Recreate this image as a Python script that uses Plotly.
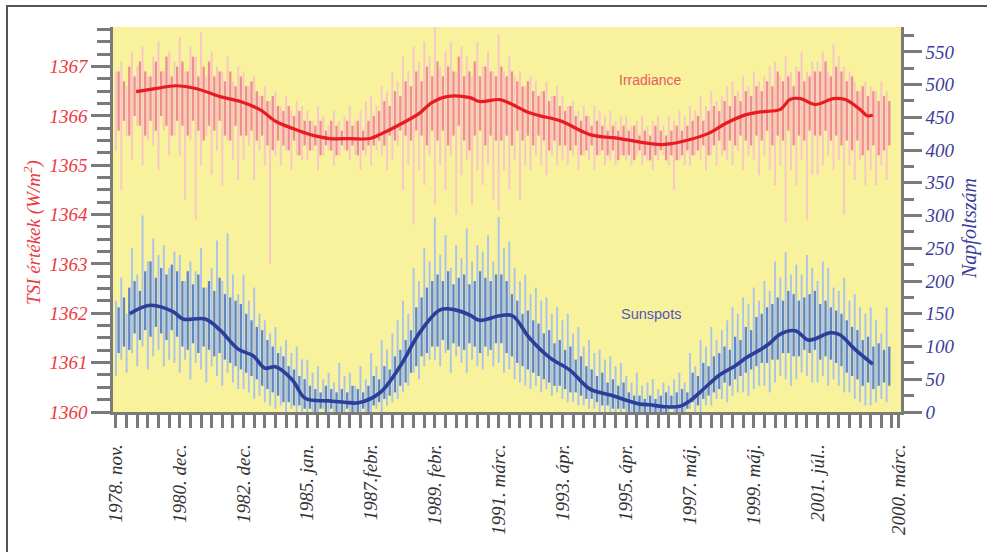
import numpy as np
import plotly.graph_objects as go

# ---------------- data ----------------
# x axis: tick-index units (one small tick per unit)
tick_labels = ["1978. nov.", "1980. dec.", "1982. dec.", "1985. jan.", "1987.febr.",
               "1989. febr.", "1991. márc.", "1993. ápr.", "1995. ápr.", "1997. máj.",
               "1999. máj.", "2001. júl..", "2000. márc."]
tick_pos = [0, 6, 12, 18, 24, 30, 36, 42, 48, 54, 60, 66, 73.65]

# TSI, light pink spikes (every 0.5 tick from 0): high / low values
tsi_light_hi = [
    1366.9, 1367.1, 1366.6, 1367.3, 1367.0, 1367.4, 1366.8, 1367.2, 1367.5, 1366.9, 1367.3, 1367.1,
    1367.6, 1366.9, 1367.4, 1367.2, 1367.7, 1366.8, 1367.3, 1367.0, 1366.9, 1367.2, 1366.7, 1367.0,
    1366.9, 1366.6, 1366.8, 1366.4, 1366.6, 1366.3, 1366.5, 1366.2, 1366.4, 1366.1, 1366.3, 1366.2,
    1366.1, 1365.9, 1366.2, 1366.0, 1365.8, 1366.1, 1365.9, 1366.0, 1366.2, 1365.9, 1366.1, 1366.3,
    1366.4, 1366.2, 1366.6, 1366.5, 1366.9, 1366.7, 1367.2, 1366.9, 1367.4, 1367.1, 1367.5, 1367.2,
    1367.8, 1367.0, 1367.3, 1367.5, 1366.9, 1367.4, 1367.2, 1366.8, 1367.5, 1367.0, 1367.3, 1366.9,
    1367.65, 1366.9, 1367.2, 1366.8, 1366.9, 1366.6, 1366.8, 1366.7, 1366.5, 1366.7, 1366.4, 1366.6,
    1366.4, 1366.2, 1366.3, 1366.1, 1366.2, 1366.0, 1366.2, 1366.1, 1366.0, 1366.1, 1365.9, 1366.0,
    1366.0, 1365.8, 1365.9, 1366.0, 1365.8, 1365.9, 1366.0, 1365.8, 1366.0, 1365.9, 1366.1, 1366.0,
    1366.2, 1366.1, 1366.4, 1366.2, 1366.5, 1366.3, 1366.4, 1366.6, 1366.7, 1366.5, 1366.8, 1366.6,
    1366.9, 1366.7, 1366.8, 1367.0, 1367.1, 1366.8, 1367.2, 1366.9, 1367.0, 1367.3, 1366.9, 1367.1,
    1367.1, 1367.3, 1366.9, 1367.45, 1367.2, 1367.0, 1366.9, 1366.7, 1366.5, 1366.7, 1366.6, 1366.5,
    1366.7, 1366.5,
]
tsi_light_lo = [
    1365.3, 1364.5, 1365.6, 1365.1, 1365.8, 1365.0, 1365.5, 1365.4, 1364.9, 1365.7, 1365.2, 1365.6,
    1365.2, 1364.3, 1365.5, 1363.9, 1365.0, 1365.6, 1364.8, 1365.3, 1364.6, 1365.5, 1365.1, 1364.7,
    1365.1, 1365.4, 1364.7, 1365.3, 1365.0, 1363.0, 1365.2, 1365.0, 1365.3, 1364.9, 1365.2, 1365.1,
    1365.1, 1365.3, 1364.9, 1365.2, 1365.3, 1365.0, 1365.2, 1365.3, 1365.1, 1365.2, 1364.9, 1365.2,
    1365.0, 1365.3, 1365.2, 1364.9, 1365.1, 1365.4, 1364.5, 1365.0, 1363.8, 1364.9, 1364.6, 1365.2,
    1364.2, 1365.0, 1364.5, 1365.2, 1364.0, 1364.8, 1365.1, 1364.2, 1364.9, 1364.6, 1365.0, 1364.3,
    1364.1, 1364.9, 1364.5, 1365.1, 1364.3, 1365.0, 1364.9, 1365.2, 1365.0, 1364.8, 1365.2, 1365.0,
    1365.1, 1365.0, 1365.2, 1364.9, 1365.2, 1365.1, 1364.9, 1365.2, 1365.0, 1365.1, 1365.0, 1365.2,
    1365.1, 1365.0, 1365.2, 1365.0, 1365.1, 1364.9, 1365.1, 1365.2, 1365.0, 1364.5, 1365.1, 1365.0,
    1365.0, 1365.2, 1365.1, 1364.9, 1365.2, 1365.0, 1365.2, 1365.1, 1365.0, 1365.3, 1364.9, 1365.2,
    1365.1, 1364.8, 1365.2, 1364.9, 1364.6, 1365.0, 1363.85, 1364.9, 1364.6, 1365.1, 1363.9, 1364.8,
    1364.8, 1365.0, 1365.2, 1364.9, 1365.1, 1364.0, 1365.0, 1364.7, 1365.1, 1364.6, 1364.9, 1364.6,
    1365.0, 1364.7,
]

# TSI, salmon inner band spikes (every 0.5 tick from 0.25)
tsi_dark_hi = [
    1366.9, 1366.7, 1367.0, 1366.8, 1367.1, 1366.9, 1366.8, 1367.1, 1366.9, 1367.2, 1366.8, 1367.0,
    1367.1, 1366.9, 1367.2, 1366.8, 1367.0, 1367.1, 1366.8, 1366.9, 1366.7, 1366.9, 1366.6, 1366.8,
    1366.6, 1366.7, 1366.5, 1366.4, 1366.3, 1366.4, 1366.2, 1366.1, 1366.2, 1366.0, 1366.1, 1365.9,
    1365.9, 1365.8, 1365.9, 1365.7, 1365.9, 1365.8, 1365.7, 1365.9, 1365.8, 1365.9, 1365.7, 1365.9,
    1366.0, 1366.1, 1366.3, 1366.2, 1366.5, 1366.4, 1366.7, 1366.6, 1366.9, 1366.7, 1367.0, 1366.8,
    1367.1, 1366.8, 1367.0, 1366.9, 1367.2, 1366.8, 1366.9, 1367.1, 1366.8, 1367.0, 1366.9, 1366.8,
    1367.0, 1366.8, 1366.9, 1366.7, 1366.6, 1366.7, 1366.5, 1366.4, 1366.5, 1366.3, 1366.4, 1366.2,
    1366.1, 1366.2, 1366.0, 1365.9, 1366.0, 1365.8, 1365.9, 1365.8, 1365.7, 1365.8, 1365.7, 1365.8,
    1365.7, 1365.8, 1365.6, 1365.7, 1365.6, 1365.8, 1365.7, 1365.6, 1365.7, 1365.8, 1365.7, 1365.8,
    1365.9, 1366.0, 1365.9, 1366.1, 1366.2, 1366.1, 1366.3, 1366.2, 1366.4, 1366.3, 1366.5, 1366.4,
    1366.6, 1366.5, 1366.7, 1366.6, 1366.9, 1366.7, 1366.8, 1366.6, 1366.9, 1366.7, 1366.8, 1366.9,
    1366.9, 1367.1, 1366.8, 1367.0, 1366.9, 1366.7, 1366.8, 1366.5, 1366.6, 1366.4, 1366.5, 1366.3,
    1366.4, 1366.3,
]
tsi_dark_lo = [
    1365.7, 1365.9, 1365.6, 1366.0, 1365.8, 1365.6, 1365.9, 1365.7, 1366.0, 1365.8, 1365.6, 1365.9,
    1365.8, 1365.6, 1365.9, 1365.7, 1365.5, 1365.8, 1365.7, 1365.9, 1365.6, 1365.5, 1365.8, 1365.6,
    1365.6, 1365.7, 1365.5, 1365.6, 1365.4, 1365.3, 1365.5, 1365.4, 1365.3, 1365.5, 1365.2, 1365.4,
    1365.3, 1365.4, 1365.2, 1365.4, 1365.3, 1365.2, 1365.4, 1365.3, 1365.4, 1365.2, 1365.3, 1365.4,
    1365.4, 1365.5, 1365.4, 1365.6, 1365.5, 1365.7, 1365.6, 1365.5, 1365.7, 1365.6, 1365.4, 1365.7,
    1365.5, 1365.7, 1365.4, 1365.6, 1365.8, 1365.5, 1365.3, 1365.6, 1365.7, 1365.4, 1365.6, 1365.5,
    1365.5, 1365.6, 1365.4, 1365.7, 1365.5, 1365.6, 1365.4, 1365.6, 1365.5, 1365.3, 1365.5, 1365.4,
    1365.4, 1365.3, 1365.4, 1365.2, 1365.3, 1365.4, 1365.2, 1365.3, 1365.2, 1365.3, 1365.1, 1365.2,
    1365.2, 1365.1, 1365.3, 1365.2, 1365.1, 1365.2, 1365.3, 1365.1, 1365.2, 1365.1, 1365.2, 1365.3,
    1365.2, 1365.3, 1365.4, 1365.2, 1365.4, 1365.5, 1365.3, 1365.5, 1365.4, 1365.6, 1365.5, 1365.4,
    1365.6, 1365.5, 1365.7, 1365.4, 1365.6, 1365.5, 1365.7, 1365.4, 1365.6, 1365.5, 1365.7, 1365.6,
    1365.6, 1365.7, 1365.5, 1365.6, 1365.4, 1365.5, 1365.3, 1365.5, 1365.2, 1365.3, 1365.4, 1365.2,
    1365.3, 1365.4,
]

# TSI smoothed curve
tsi_smooth_x = [1.9, 3.7, 5.6, 7.6, 9.8, 11.7, 13.5, 15.1, 16.7, 18.3, 20.1, 22.0, 23.9, 24.8,
                26.5, 28.6, 29.7, 31.1, 33.3, 34.2, 36.1, 37.1, 38.7, 39.9, 41.8, 44.6, 47.4,
                50.2, 51.6, 54.0, 55.9, 57.3, 59.2, 60.6, 62.5, 63.4, 64.4, 65.8, 67.5, 68.6,
                70.0, 70.7, 71.2]
tsi_smooth = [1366.49, 1366.55, 1366.61, 1366.55, 1366.39, 1366.29, 1366.13, 1365.88, 1365.74,
              1365.62, 1365.54, 1365.54, 1365.54, 1365.62, 1365.80, 1366.06, 1366.27, 1366.39,
              1366.37, 1366.29, 1366.33, 1366.25, 1366.08, 1366.00, 1365.90, 1365.62, 1365.54,
              1365.44, 1365.42, 1365.52, 1365.66, 1365.84, 1366.02, 1366.08, 1366.13, 1366.33,
              1366.35, 1366.23, 1366.35, 1366.33, 1366.13, 1366.00, 1366.02]

# Sunspots, light blue spikes (every 0.5 tick from 0)
spots_light_hi = [
    170, 205, 150, 250, 210, 300, 230, 265, 240, 255, 220, 245,
    240, 200, 230, 215, 250, 190, 220, 262, 200, 273, 210, 180,
    210, 170, 190, 150, 140, 120, 130, 100, 110, 90, 100, 80,
    80, 60, 70, 50, 60, 45, 75, 55, 60, 40, 70, 50,
    90, 70, 110, 95, 120, 140, 170, 150, 220, 200, 250, 230,
    297, 240, 270, 220, 255, 235, 280, 230, 255, 245, 270, 230,
    298, 250, 260, 220, 200, 210, 180, 190, 170, 175, 150, 160,
    140, 150, 120, 130, 100, 110, 90, 95, 80, 85, 70, 75,
    55, 45, 60, 40, 45, 50, 35, 45, 40, 50, 60, 45,
    90, 70, 110, 100, 130, 110, 125, 140, 160, 150, 175, 165,
    190, 170, 200, 185, 230, 205, 244, 210, 225, 210, 240, 220,
    200, 230, 220, 190, 185, 205, 170, 180, 160, 150, 160, 140,
    120, 160,
]
spots_light_lo = [
    55, 80, 60, 90, 70, 100, 65, 85, 95, 70, 80, 75,
    60, 80, 50, 75, 65, 45, 70, 55, 40, 60, 45, 35,
    35, 30, 20, 25, 15, 10, 5, 10, 0, 5, 0, 0,
    0, 0, 0, 5, 0, 0, 0, 0, 0, 0, 0, 0,
    0, 5, 0, 10, 15, 20, 30, 40, 60, 50, 70, 80,
    80, 70, 90, 60, 85, 75, 60, 80, 70, 65, 85, 70,
    75, 60, 65, 50, 45, 40, 35, 40, 30, 35, 25, 30,
    20, 15, 15, 10, 10, 5, 5, 0, 0, 0, 0, 0,
    0, 0, 0, 0, 0, 0, 0, 0, 0, 0, 0, 0,
    5, 0, 0, 10, 10, 20, 20, 15, 25, 30, 30, 25,
    35, 40, 40, 30, 45, 55, 50, 40, 50, 60, 55, 45,
    45, 55, 40, 50, 40, 30, 30, 20, 15, 10, 10, 15,
    20, 15,
]

# Sunspots, medium blue spikes (every 0.5 tick from 0.25)
spots_dark_hi = [
    160, 175, 190, 200, 185, 215, 230, 205, 220, 210, 225, 215,
    200, 215, 195, 210, 190, 200, 185, 205, 180, 175, 170, 165,
    150, 140, 130, 125, 110, 100, 90, 85, 70, 65, 55, 50,
    40, 35, 30, 40, 35, 30, 35, 30, 40, 35, 30, 40,
    55, 50, 70, 65, 85, 95, 110, 125, 160, 175, 190, 200,
    210, 200, 215, 195, 205, 210, 195, 200, 215, 205, 200, 210,
    210, 200, 180, 170, 150, 155, 140, 135, 120, 125, 105, 110,
    95, 100, 80, 85, 70, 65, 55, 60, 45, 50, 40, 45,
    30, 25, 25, 20, 25, 20, 25, 30, 25, 30, 35, 30,
    60, 55, 75, 70, 85, 90, 100, 95, 115, 110, 130, 125,
    145, 150, 160, 165, 175, 170, 185, 180, 170, 175, 180, 185,
    165, 170, 160, 155, 150, 140, 130, 125, 110, 115, 100, 105,
    95, 100,
]
spots_dark_lo = [
    90, 100, 95, 120, 110, 125, 115, 130, 120, 110, 125, 115,
    100, 95, 105, 90, 100, 95, 85, 90, 80, 75, 70, 65,
    60, 55, 50, 40, 35, 30, 25, 15, 15, 10, 10, 5,
    5, 0, 5, 0, 5, 0, 0, 5, 0, 0, 5, 0,
    10, 15, 20, 25, 30, 40, 45, 60, 70, 85, 90, 100,
    100, 110, 95, 105, 100, 95, 105, 100, 90, 100, 95, 105,
    105, 90, 85, 75, 70, 65, 60, 55, 50, 45, 40, 40,
    35, 30, 30, 25, 20, 20, 15, 10, 10, 5, 5, 5,
    0, 0, 0, 0, 0, 0, 0, 0, 5, 0, 0, 5,
    15, 10, 20, 25, 30, 35, 45, 40, 50, 55, 60, 65,
    70, 75, 75, 80, 80, 90, 90, 85, 85, 95, 90, 95,
    80, 85, 80, 75, 70, 60, 55, 50, 40, 45, 35, 40,
    45, 40,
]

# Sunspot smoothed curve
spots_smooth_x = [1.3, 3.2, 5.4, 6.3, 8.4, 9.8, 11.5, 12.9, 14.0, 15.0, 16.6, 17.8, 20.1, 21.5,
                  22.8, 24.8, 26.7, 28.6, 30.5, 31.9, 33.3, 34.2, 36.1, 37.3, 38.9, 40.8, 42.7,
                  44.6, 46.5, 49.3, 50.2, 51.6, 53.1, 54.0, 55.4, 56.8, 58.2, 59.4, 60.6, 61.5,
                  62.5, 63.9, 65.1, 65.8, 67.2, 68.1, 69.5, 71.2]
spots_smooth = [150, 163, 153, 142, 142, 125, 96, 86, 67, 69, 49, 21, 17, 15, 14, 29, 69, 122,
                156, 156, 148, 140, 147, 147, 113, 83, 64, 35, 26, 12, 11, 8, 9, 17, 37, 57, 70,
                84, 95, 105, 119, 124, 110, 112, 121, 118, 96, 73]

tsi_ticks = [1360, 1361, 1362, 1363, 1364, 1365, 1366, 1367]
spot_ticks = [0, 50, 100, 150, 200, 250, 300, 350, 400, 450, 500, 550]

# ---------------- figure ----------------
def spikes(x0, step, lo, hi):
    """One vertical segment per sample, from its low to its high value."""
    xs, ys = [], []
    for i, (a, b) in enumerate(zip(lo, hi)):
        xv = x0 + i * step
        xs += [xv, xv, None]
        ys += [a, b, None]
    return xs, ys

RED = "#ec3a3f"
NAVY = "#3c3c9c"
GREY = "#7a7a7a"
SERIF = "Liberation Serif"

fig = go.Figure()
xs, ys = spikes(0.0, 0.5, tsi_light_lo, tsi_light_hi)
fig.add_trace(go.Scatter(x=xs, y=ys, mode="lines", line=dict(color="#f9c4ca", width=1.9),
                         yaxis="y", connectgaps=False))
xs, ys = spikes(0.25, 0.5, tsi_dark_lo, tsi_dark_hi)
fig.add_trace(go.Scatter(x=xs, y=ys, mode="lines", line=dict(color="#f18d92", width=2.3),
                         yaxis="y", connectgaps=False))
fig.add_trace(go.Scatter(x=tsi_smooth_x, y=tsi_smooth, mode="lines",
                         line=dict(color="#e81a22", width=3.2, shape="spline"), yaxis="y"))
xs, ys = spikes(0.0, 0.5, spots_light_lo, spots_light_hi)
fig.add_trace(go.Scatter(x=xs, y=ys, mode="lines", line=dict(color="#a9c3ec", width=1.9),
                         yaxis="y2", connectgaps=False))
xs, ys = spikes(0.25, 0.5, spots_dark_lo, spots_dark_hi)
fig.add_trace(go.Scatter(x=xs, y=ys, mode="lines", line=dict(color="#6185c9", width=2.3),
                         yaxis="y2", connectgaps=False))
fig.add_trace(go.Scatter(x=spots_smooth_x, y=spots_smooth, mode="lines",
                         line=dict(color="#2b3f9a", width=3.6, shape="spline"), yaxis="y2"))

L, R, T, B = 113, 901, 27, 412
W, H = 987, 552

def px(x):
    return (x - L) / (R - L)

def py(y):
    return (B - y) / (B - T)

fig.update_layout(
    width=W, height=H,
    margin=dict(l=L, r=W - R, t=T, b=H - B, pad=0, autoexpand=False),
    paper_bgcolor="white",
    plot_bgcolor="#f7f29b",
    showlegend=False,
    hovermode=False,
    xaxis=dict(
        range=[-0.28, 73.85], showgrid=False, zeroline=False,
        showline=True, linecolor=GREY, linewidth=2.5,
        tickmode="array", tickvals=tick_pos, ticktext=tick_labels,
        ticks="outside", ticklen=13, tickwidth=3, tickcolor=GREY,
        tickangle=-90, ticklabelstandoff=9,
        tickfont=dict(family=SERIF, size=19, color="#333333", style="italic"),
        minor=dict(tickmode="linear", tick0=0, dtick=1, ticks="outside",
                   ticklen=13, tickwidth=3, tickcolor=GREY, showgrid=False),
    ),
    yaxis=dict(
        range=[1360, 1367.8], showgrid=False, zeroline=False,
        showline=True, linecolor=GREY, linewidth=2.5,
        tickmode="array", tickvals=tsi_ticks,
        ticks="outside", ticklen=19, tickwidth=3, tickcolor=GREY,
        tickfont=dict(family=SERIF, size=19, color=RED, style="italic"),
        minor=dict(tickmode="linear", tick0=1360, dtick=0.25, ticks="outside",
                   ticklen=13, tickwidth=3, tickcolor=GREY, showgrid=False),
    ),
    yaxis2=dict(
        range=[0, 588], overlaying="y", side="right", anchor="x",
        showgrid=False, zeroline=False,
        showline=True, linecolor=GREY, linewidth=2.5,
        tickmode="array", tickvals=spot_ticks,
        ticks="outside", ticklen=18, tickwidth=3, tickcolor=GREY,
        tickfont=dict(family=SERIF, size=19, color=NAVY, style="italic"),
        minor=dict(tickmode="linear", tick0=0, dtick=25, ticks="outside",
                   ticklen=10, tickwidth=3, tickcolor=GREY, showgrid=False),
    ),
    shapes=[
        dict(type="rect", xref="paper", yref="paper",
             x0=px(7), x1=px(1100), y0=py(700), y1=py(6),
             line=dict(color="#555555", width=2), fillcolor="rgba(0,0,0,0)", layer="above"),
    ],
    annotations=[
        dict(text="TSI értékek (W/m<sup>2</sup>)", xref="paper", yref="paper",
             x=px(33), y=py(233), showarrow=False, textangle=-90,
             xanchor="center", yanchor="middle",
             font=dict(family=SERIF, size=19, color=RED, style="italic")),
        dict(text="Napfoltszám", xref="paper", yref="paper",
             x=px(970), y=py(229), showarrow=False, textangle=-90,
             xanchor="center", yanchor="middle",
             font=dict(family=SERIF, size=20, color=NAVY, style="italic")),
        dict(text="Irradiance", xref="paper", yref="paper",
             x=px(650), y=py(80), showarrow=False,
             xanchor="center", yanchor="middle",
             font=dict(family="Liberation Sans", size=14, color="#ea5a62")),
        dict(text="Sunspots", xref="paper", yref="paper",
             x=px(651), y=py(314), showarrow=False,
             xanchor="center", yanchor="middle",
             font=dict(family="Liberation Sans", size=14.5, color="#5656b8")),
    ],
)

fig.write_html("out.html", config={"displayModeBar": False},
               post_script="document.body.style.margin='0px';")
